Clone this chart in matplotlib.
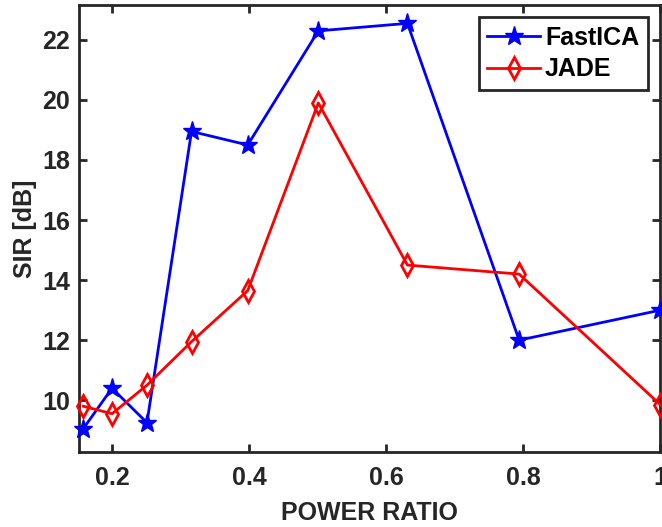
import matplotlib
matplotlib.use("Agg")
import matplotlib.pyplot as plt

power_ratio = [0.158, 0.2, 0.251, 0.316, 0.398, 0.501, 0.631, 0.794, 1.0]
fastica_sir = [9.05, 10.4, 9.25, 18.95, 18.5, 22.3, 22.55, 12.0, 13.0]
jade_sir = [9.8, 9.55, 10.5, 11.95, 13.65, 19.9, 14.5, 14.2, 9.85]
xticks = [0.2, 0.4, 0.6, 0.8, 1.0]
xticklabels = ["0.2", "0.4", "0.6", "0.8", "1"]
yticks = [10, 12, 14, 16, 18, 20, 22]

plt.rcParams['font.family'] = ['Liberation Sans', 'DejaVu Sans']
plt.rcParams['font.weight'] = 'bold'

fig = plt.figure(figsize=(6.62, 5.27), dpi=100)
ax = fig.add_axes([0.1195, 0.142, 0.878, 0.849])

ax.plot(power_ratio, fastica_sir, color='#0000ff', lw=2, marker='*', ms=14,
        label='FastICA', clip_on=False, zorder=3)
ax.plot(power_ratio, jade_sir, color='#ff0000', lw=2, marker='d', ms=11,
        mfc='none', mew=2, label='JADE', clip_on=False, zorder=3)

ax.set_xlim(0.152, 1.0)
ax.set_ylim(8.27, 23.17)
ax.set_xticks(xticks)
ax.set_xticklabels(xticklabels)
ax.set_yticks(yticks)

dark = '#262626'
for s in ax.spines.values():
    s.set_linewidth(2)
    s.set_color(dark)
ax.tick_params(direction='in', top=True, right=True, length=5.5, width=2,
               colors=dark, labelsize=18)
ax.tick_params(axis='x', pad=10)
ax.tick_params(axis='y', pad=6.5)
for lab in ax.get_xticklabels() + ax.get_yticklabels():
    lab.set_fontweight('bold')

ax.set_xlabel('POWER RATIO', fontsize=18, fontweight='bold', color=dark, labelpad=8)
ax.set_ylabel('SIR [dB]', fontsize=18, fontweight='bold', color=dark, labelpad=4)

leg = ax.legend(loc='upper right', frameon=True, fancybox=False,
                edgecolor=dark, handlelength=2.1, handletextpad=0.2,
                borderpad=0.35, labelspacing=0.3, borderaxespad=0.5,
                prop={'weight': 'bold', 'size': 18})
leg.get_frame().set_linewidth(2)
leg.get_frame().set_alpha(1)

fig.savefig('out.png', dpi=100)
